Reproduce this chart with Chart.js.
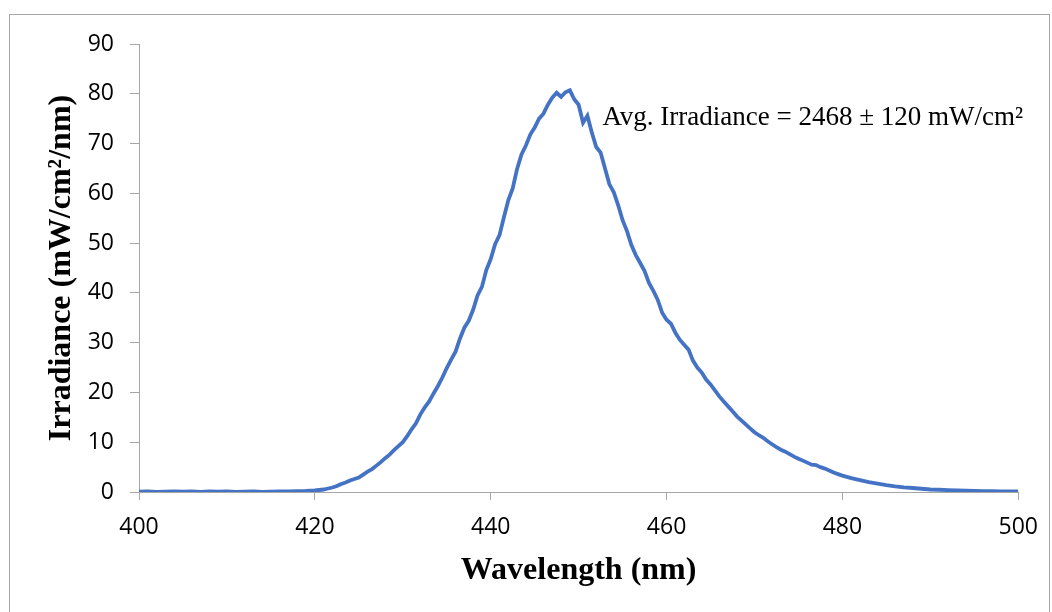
<!DOCTYPE html>
<html>
<head>
<meta charset="utf-8">
<title>Irradiance spectrum</title>
<script src="https://cdn.jsdelivr.net/npm/chart.js@4/dist/chart.umd.min.js"></script>
<style>
  html, body { margin: 0; padding: 0; background: #ffffff; }
  #wrap { width: 1052px; height: 612px; position: relative; }
</style>
</head>
<body>
<div id="wrap"><canvas id="chartIrradiancia"></canvas></div>
<script>
// --- datos ---
// longitud de onda (nm)
const longitudOnda = [
  400, 401, 402, 403, 404, 405, 406, 407, 408, 409,
  410, 411, 412, 413, 414, 415, 416, 417, 418, 419,
  420, 420.5, 421, 421.5, 422, 422.5, 423, 423.5, 424, 424.5,
  425, 425.5, 426, 426.5, 427, 427.5, 428, 428.5, 429, 429.5,
  430, 430.5, 431, 431.5, 432, 432.5, 433, 433.5, 434, 434.5,
  435, 435.5, 436, 436.5, 437, 437.5, 438, 438.5, 439, 439.5,
  440, 440.5, 441, 441.5, 442, 442.5, 443, 443.5, 444, 444.5,
  445, 445.5, 446, 446.5, 447, 447.5, 448, 448.5, 449, 449.5,
  450, 450.5, 451, 451.5, 452, 452.5, 453, 453.5, 454, 454.5,
  455, 455.5, 456, 456.5, 457, 457.5, 458, 458.5, 459, 459.5,
  460, 460.5, 461, 461.5, 462, 462.5, 463, 463.5, 464, 464.5,
  465, 465.5, 466, 466.5, 467, 467.5, 468, 468.5, 469, 469.5,
  470, 470.5, 471, 471.5, 472, 472.5, 473, 473.5, 474, 474.5,
  475, 475.5, 476, 476.5, 477, 477.5, 478, 478.5, 479, 479.5,
  480, 481, 482, 483, 484, 485, 486, 487, 488, 489,
  490, 491, 492, 493, 494, 495, 496, 497, 498, 499, 500
];

// irradiancia (mW/cm2/nm)
const irradiancia = [
  0.05, 0.1, 0.0, 0.08, 0.12, 0.05, 0.1, 0.02, 0.1, 0.06,
  0.12, 0.04, 0.08, 0.1, 0.03, 0.09, 0.1, 0.12, 0.15, 0.2,
  0.3, 0.4, 0.5, 0.7, 0.9, 1.2, 1.6, 1.9, 2.3, 2.6,
  2.9, 3.5, 4.1, 4.6, 5.3, 6.0, 6.8, 7.5, 8.4, 9.2,
  10.0, 11.2, 12.6, 13.8, 15.6, 17.0, 18.2, 19.8, 21.3, 23.0,
  24.9, 26.6, 28.2, 30.8, 33.0, 34.4, 36.6, 39.5, 41.2, 44.6,
  46.8, 49.8, 51.6, 55.2, 58.6, 61.0, 64.9, 67.8, 69.6, 71.8,
  73.2, 75.0, 76.0, 77.8, 79.2, 80.2, 79.4, 80.3, 80.7, 78.9,
  77.8, 74.2, 75.6, 72.2, 69.3, 68.2, 65.0, 61.8, 60.2, 57.6,
  54.6, 52.4, 49.6, 47.6, 46.0, 44.4, 42.0, 40.4, 38.6, 36.0,
  34.6, 33.8, 32.0, 30.6, 29.6, 28.6, 26.4, 25.0, 24.0, 22.6,
  21.6, 20.4, 19.2, 18.2, 17.2, 16.2, 15.2, 14.4, 13.6, 12.8,
  12.0, 11.4, 10.9, 10.2, 9.6, 9.0, 8.5, 8.1, 7.6, 7.1,
  6.7, 6.3, 5.9, 5.5, 5.4, 5.0, 4.7, 4.3, 3.9, 3.6,
  3.3, 2.8, 2.4, 2.0, 1.7, 1.4, 1.15, 0.95, 0.8, 0.65,
  0.5, 0.45, 0.38, 0.3, 0.25, 0.2, 0.18, 0.15, 0.12, 0.1, 0.1
];

// ejes
const ejeX = { min: 400, max: 500, paso: 20 };
const ejeY = { min: 0, max: 90, paso: 10 };
const textoPromedio = 'Avg. Irradiance = 2468 \u00b1 120 mW/cm\u00b2';
const posPromedio = { x: 452.7, y: 73.7 };

// --- estilos ---
const colorLinea = '#4472C4';
const colorEje = '#a6a6a6';
const fuenteTicks = { family: '"Open Sans", sans-serif', size: 23 };
const fuenteTitulo = { family: '"Liberation Serif", "Times New Roman", serif', size: 32, weight: 'bold', lineHeight: 1 };

// fondo blanco + marco exterior + texto del promedio
const pluginMarco = {
  id: 'marco',
  beforeDraw(chart) {
    const ctx = chart.ctx;
    ctx.save();
    ctx.fillStyle = '#ffffff';
    ctx.fillRect(0, 0, chart.width, chart.height);
    ctx.restore();
  },
  afterDraw(chart) {
    const ctx = chart.ctx;
    ctx.save();
    ctx.strokeStyle = colorEje;
    ctx.lineWidth = 1;
    ctx.strokeRect(9.5, 14.5, 1040, 640);
    const px = chart.scales.x.getPixelForValue(posPromedio.x);
    const py = chart.scales.y.getPixelForValue(posPromedio.y);
    ctx.fillStyle = '#000000';
    ctx.font = '27px "Liberation Serif", "Times New Roman", serif';
    ctx.textAlign = 'left';
    ctx.textBaseline = 'alphabetic';
    ctx.fillText(textoPromedio, px, py);
    ctx.restore();
  }
};

new Chart(document.getElementById('chartIrradiancia'), {
  type: 'line',
  data: {
    datasets: [{
      data: longitudOnda.map((x, i) => ({ x: x, y: irradiancia[i] })),
      borderColor: colorLinea,
      borderWidth: 3.8,
      pointRadius: 0,
      tension: 0,
      fill: false
    }]
  },
  options: {
    responsive: true,
    maintainAspectRatio: false,
    animation: false,
    layout: { padding: { top: 44, right: 33, left: 0, bottom: 0 } },
    plugins: {
      legend: { display: false },
      tooltip: { enabled: false }
    },
    scales: {
      x: {
        type: 'linear',
        min: ejeX.min,
        max: ejeX.max,
        afterFit(scale) { scale.height = 120; },
        ticks: { stepSize: ejeX.paso, color: '#000000', font: fuenteTicks, padding: 14, maxRotation: 0 },
        grid: { drawOnChartArea: false, color: colorEje, tickLength: 8 },
        border: { color: colorEje, width: 1 },
        title: {
          display: true,
          text: 'Wavelength (nm)',
          color: '#000000',
          font: fuenteTitulo,
          padding: { top: 0, bottom: 25 }
        }
      },
      y: {
        min: ejeY.min,
        max: ejeY.max,
        afterFit(scale) { scale.width = 139; },
        ticks: { stepSize: ejeY.paso, color: '#000000', font: fuenteTicks, padding: 16 },
        grid: { drawOnChartArea: false, color: colorEje, tickLength: 9 },
        border: { color: colorEje, width: 1 },
        title: {
          display: true,
          text: 'Irradiance (mW/cm\u00b2/nm)',
          color: '#000000',
          font: fuenteTitulo,
          padding: { top: 46, bottom: 0 }
        }
      }
    }
  },
  plugins: [pluginMarco]
});
</script>
</body>
</html>
